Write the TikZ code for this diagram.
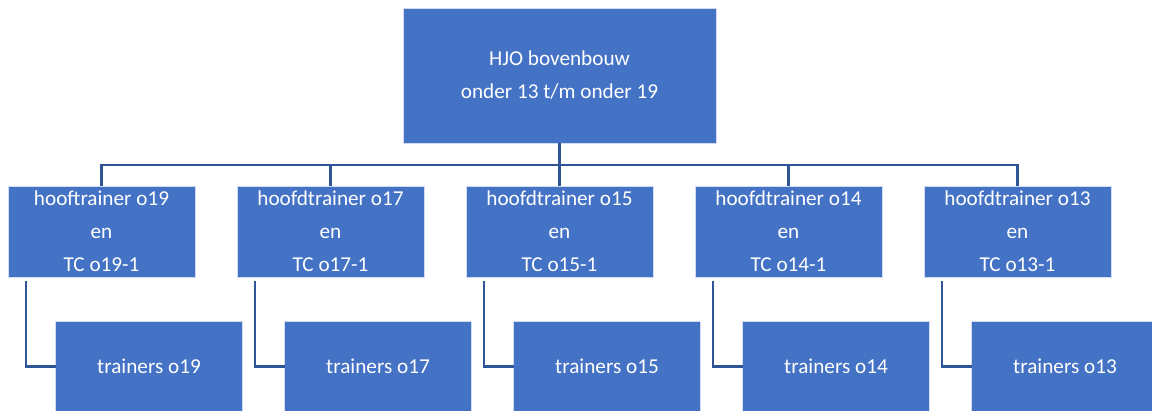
\documentclass[tikz,border=0pt]{standalone}
\usepackage{fontspec}
\setmainfont{Carlito}
\usetikzlibrary{calc}
\usetikzlibrary{positioning}
\definecolor{boxblue}{HTML}{4472C4}
\definecolor{lineblue}{HTML}{2F5597}

\begin{document}
\begin{tikzpicture}[x=1pt,y=1pt,node distance=44pt and 42pt,
		box/.style={fill=boxblue,draw=white!75!boxblue,line width=0.6pt,text=white,align=center,inner sep=0pt,outer sep=0pt,
			font=\fontsize{21.2}{33}\selectfont,minimum width=187pt,minimum height=91pt},
		link/.style={draw=lineblue,line width=2.4pt}]
		\useasboundingbox (0,0) rectangle (1152,411);

		\node [box,minimum width=313pt,minimum height=135pt] (hjo) at (559.5,335.5) {HJO bovenbouw\\onder 13 t/m onder 19};

		\node [box] (h19) at (101.5,179.5) {hooftrainer o19\\en\\TC o19-1};
		\node [box,right=of h19] (h17) {hoofdtrainer o17\\en\\TC o17-1};
		\node [box,right=of h17] (h15) {hoofdtrainer o15\\en\\TC o15-1};
		\node [box,right=of h15] (h14) {hoofdtrainer o14\\en\\TC o14-1};
		\node [box,right=of h14] (h13) {hoofdtrainer o13\\en\\TC o13-1};

		\node [box,below=of h19,xshift=47.5pt] (t19) {trainers o19};
		\node [box,below=of h17,xshift=47.5pt] (t17) {trainers o17};
		\node [box,below=of h15,xshift=47.5pt] (t15) {trainers o15};
		\node [box,below=of h14,xshift=47.5pt] (t14) {trainers o14};
		\node [box,below=of h13,xshift=47.5pt] (t13) {trainers o13};

		% verdeellijn onder HJO
		\coordinate (bus) at ($(hjo.south)+(0,-22)$);
		\draw [link] (hjo) -- (bus);
		\draw [link] (h19) |- (bus);
		\draw [link] (h17) |- (bus);
		\draw [link] (h15) -- (bus);
		\draw [link] (h14) |- (bus);
		\draw [link] (h13) |- (bus);

		% trainers per leeftijd
		\coordinate (d19) at ($(h19.south west)+(18,-4)$);
		\coordinate (d17) at ($(h17.south west)+(18,-4)$);
		\coordinate (d15) at ($(h15.south west)+(18,-4)$);
		\coordinate (d14) at ($(h14.south west)+(18,-4)$);
		\coordinate (d13) at ($(h13.south west)+(18,-4)$);
		\draw [link] (d19) |- (t19);
		\draw [link] (d17) |- (t17);
		\draw [link] (d15) |- (t15);
		\draw [link] (d14) |- (t14);
		\draw [link] (d13) |- (t13);
	\end{tikzpicture}
\end{document}
